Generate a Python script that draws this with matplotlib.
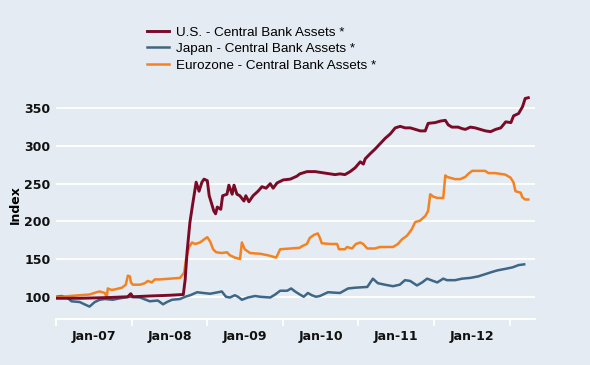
import pandas as pd
import matplotlib
matplotlib.use('Agg')
import matplotlib.pyplot as plt
import matplotlib.dates as mdates

# Index levels (Jan 2007 = ~100)
us_dates = ['2007-01-01', '2007-04-25', '2007-09-18', '2007-12-13', '2007-12-28', '2008-01-07',
            '2008-03-28', '2008-07-04', '2008-09-07', '2008-09-16', '2008-09-25', '2008-10-09',
            '2008-10-24', '2008-11-08', '2008-11-22', '2008-12-06', '2008-12-16', '2009-01-01',
            '2009-01-10', '2009-01-19', '2009-02-01', '2009-02-10', '2009-02-18', '2009-03-07',
            '2009-03-16', '2009-04-06', '2009-04-15', '2009-05-01', '2009-05-10', '2009-05-24',
            '2009-06-07', '2009-06-27', '2009-07-06', '2009-07-21', '2009-08-10', '2009-09-03',
            '2009-09-22', '2009-10-12', '2009-11-01', '2009-11-15', '2009-12-04', '2010-01-03',
            '2010-02-06', '2010-03-10', '2010-03-24', '2010-04-28', '2010-06-06', '2010-07-24',
            '2010-09-10', '2010-10-04', '2010-10-28', '2010-11-22', '2010-12-16', '2011-01-10',
            '2011-01-25', '2011-02-03', '2011-02-28', '2011-03-23', '2011-04-16', '2011-05-10',
            '2011-06-04', '2011-06-28', '2011-07-22', '2011-08-15', '2011-09-09', '2011-10-03',
            '2011-10-27', '2011-11-20', '2011-12-04', '2012-01-07', '2012-02-01', '2012-02-25',
            '2012-03-10', '2012-03-28', '2012-04-27', '2012-05-16', '2012-06-01', '2012-06-25',
            '2012-07-18', '2012-08-12', '2012-09-06', '2012-10-01', '2012-10-25', '2012-11-19',
            '2012-12-13', '2013-01-07', '2013-01-20', '2013-02-13', '2013-03-04', '2013-03-17',
            '2013-04-01']
us_vals = [98, 98, 99, 100, 104, 100,
           101, 102, 103, 123, 159, 199,
           226, 252, 240, 252, 256, 254,
           234, 226, 214, 210, 219, 216,
           234, 236, 248, 236, 248, 236,
           234, 227, 234, 226, 234, 240,
           246, 244, 250, 244, 251, 255,
           256, 260, 263, 266, 266, 264,
           262, 263, 262, 266, 271, 279,
           276, 283, 290, 296, 303, 310,
           316, 324, 326, 324, 324, 322,
           320, 320, 330, 331, 333, 334,
           328, 325, 325, 323, 322, 325,
           324, 322, 320, 319, 322, 324,
           332, 331, 340, 343, 352, 363,
           364]

jp_dates = ['2007-01-01', '2007-01-29', '2007-02-23', '2007-03-17', '2007-04-25', '2007-06-03',
            '2007-06-12', '2007-07-07', '2007-07-31', '2007-08-25', '2007-10-02', '2007-11-06',
            '2007-12-24', '2008-02-11', '2008-03-29', '2008-05-07', '2008-06-01', '2008-06-20',
            '2008-07-14', '2008-08-22', '2008-09-16', '2008-10-10', '2008-11-13', '2008-12-12',
            '2009-01-15', '2009-02-22', '2009-03-12', '2009-04-01', '2009-04-20', '2009-05-14',
            '2009-05-29', '2009-06-17', '2009-07-16', '2009-08-20', '2009-09-13', '2009-11-01',
            '2009-11-25', '2009-12-19', '2010-01-22', '2010-02-10', '2010-03-01', '2010-03-24',
            '2010-04-12', '2010-05-02', '2010-05-21', '2010-06-10', '2010-06-29', '2010-08-07',
            '2010-10-04', '2010-11-12', '2010-12-16', '2011-02-13', '2011-03-12', '2011-04-05',
            '2011-05-09', '2011-06-17', '2011-07-20', '2011-08-14', '2011-09-08', '2011-10-11',
            '2011-11-05', '2011-11-29', '2011-12-28', '2012-01-17', '2012-02-15', '2012-03-04',
            '2012-04-12', '2012-05-16', '2012-06-24', '2012-08-02', '2012-09-05', '2012-10-09',
            '2012-11-03', '2012-12-11', '2013-01-15', '2013-02-13', '2013-03-12']
jp_vals = [100, 101, 99, 94, 93, 88,
           87, 93, 96, 97, 96, 98,
           100, 99, 94, 95, 90, 93,
           96, 97, 100, 102, 106, 105,
           104, 106, 107, 100, 99, 102,
           100, 96, 99, 101, 100, 99,
           103, 108, 108, 111, 107, 103,
           100, 105, 102, 100, 101, 106,
           105, 111, 112, 113, 124, 118,
           116, 114, 116, 122, 121, 115,
           119, 124, 121, 119, 124, 122,
           122, 124, 125, 127, 130, 133,
           135, 137, 139, 142, 143]

eu_dates = ['2007-01-01', '2007-03-08', '2007-06-12', '2007-07-16', '2007-07-31', '2007-08-25',
            '2007-09-03', '2007-09-08', '2007-09-27', '2007-10-16', '2007-11-15', '2007-12-04',
            '2007-12-14', '2007-12-24', '2007-12-29', '2008-01-07', '2008-02-11', '2008-03-05',
            '2008-03-19', '2008-04-08', '2008-04-22', '2008-05-17', '2008-07-04', '2008-08-22',
            '2008-09-11', '2008-09-20', '2008-10-05', '2008-10-19', '2008-11-03', '2008-11-27',
            '2008-12-16', '2009-01-01', '2009-01-15', '2009-01-29', '2009-02-13', '2009-03-12',
            '2009-04-06', '2009-04-20', '2009-05-14', '2009-06-08', '2009-06-17', '2009-07-01',
            '2009-07-26', '2009-09-13', '2009-10-21', '2009-11-30', '2009-12-19', '2010-02-06',
            '2010-03-24', '2010-04-03', '2010-04-27', '2010-05-11', '2010-05-31', '2010-06-19',
            '2010-06-29', '2010-07-08', '2010-08-16', '2010-09-20', '2010-09-29', '2010-10-28',
            '2010-11-07', '2010-12-01', '2010-12-20', '2011-01-10', '2011-01-24', '2011-02-13',
            '2011-03-21', '2011-04-15', '2011-06-17', '2011-07-11', '2011-07-30', '2011-08-24',
            '2011-09-17', '2011-10-02', '2011-10-26', '2011-11-20', '2011-12-04', '2011-12-14',
            '2011-12-28', '2012-01-17', '2012-02-15', '2012-02-25', '2012-03-04', '2012-04-12',
            '2012-05-07', '2012-06-01', '2012-06-15', '2012-07-04', '2012-09-05', '2012-09-20',
            '2012-10-24', '2012-12-11', '2013-01-05', '2013-01-19', '2013-01-29', '2013-02-23',
            '2013-03-03', '2013-03-17', '2013-04-01']
eu_vals = [99, 101, 103, 106, 107, 105,
           99, 111, 109, 110, 112, 116,
           128, 127, 119, 116, 116, 118,
           121, 119, 123, 123, 124, 125,
           132, 150, 166, 172, 170, 172,
           176, 179, 173, 163, 159, 158,
           159, 155, 152, 150, 172, 163,
           158, 157, 155, 152, 163, 164,
           165, 167, 170, 178, 182, 184,
           178, 171, 170, 170, 163, 163,
           166, 164, 170, 172, 170, 164,
           164, 166, 166, 170, 176, 181,
           190, 199, 201, 207, 214, 236,
           233, 231, 231, 261, 259, 256,
           256, 259, 263, 267, 267, 264,
           264, 262, 258, 252, 240, 238,
           232, 229, 229]

series_labels = ['U.S. - Central Bank Assets *', 'Japan - Central Bank Assets *',
                 'Eurozone - Central Bank Assets *']
year_labels = ['Jan-07', 'Jan-08', 'Jan-09', 'Jan-10', 'Jan-11', 'Jan-12']

bg = '#E4EBF2'
fig = plt.figure(figsize=(5.9, 3.65), dpi=100, facecolor=bg)
ax = fig.add_axes([0.095, 0.125, 0.812, 0.63])
ax.set_facecolor(bg)

l1, = ax.plot(pd.to_datetime(us_dates), us_vals, color='#7A0A26', lw=2.1, zorder=4)
l2, = ax.plot(pd.to_datetime(jp_dates), jp_vals, color='#3E6686', lw=1.8, zorder=3)
l3, = ax.plot(pd.to_datetime(eu_dates), eu_vals, color='#F58220', lw=1.8, zorder=3)

ax.set_ylim(70, 375)
ax.set_yticks([100, 150, 200, 250, 300, 350])
ax.set_xlim(pd.Timestamp('2007-01-01'), pd.Timestamp('2013-05-04'))
ax.grid(axis='y', color='white', lw=1.3)
ax.set_axisbelow(True)

# year boundaries as ticks, labels centred in each year
ax.xaxis.set_major_locator(mdates.YearLocator())
ax.xaxis.set_major_formatter(plt.NullFormatter())
ax.set_xticks(pd.to_datetime(['%d-07-02' % y for y in range(2007, 2013)]), minor=True)
ax.set_xticklabels(year_labels, minor=True)
ax.tick_params(axis='x', which='major', direction='out', length=5, width=1.3, color='white')
ax.tick_params(axis='x', which='minor', length=0, pad=8)
ax.tick_params(axis='y', length=0, pad=4)
for lab in ax.get_xticklabels(minor=True) + ax.get_yticklabels():
    lab.set_fontweight('bold')
    lab.set_fontsize(9)
    lab.set_color('#111111')

for s in ['top', 'right', 'left']:
    ax.spines[s].set_visible(False)
ax.spines['bottom'].set_color('white')
ax.spines['bottom'].set_linewidth(1.5)

ax.set_ylabel('Index', fontsize=9, fontweight='bold', labelpad=2)

fig.legend([l1, l2, l3], series_labels, loc='upper left', bbox_to_anchor=(0.24, 0.943),
           frameon=False, prop={'family': 'Liberation Sans', 'size': 9.7},
           handlelength=1.6, handletextpad=0.55, labelspacing=0.3, borderaxespad=0)

fig.savefig('out.png', dpi=100, facecolor=bg)
